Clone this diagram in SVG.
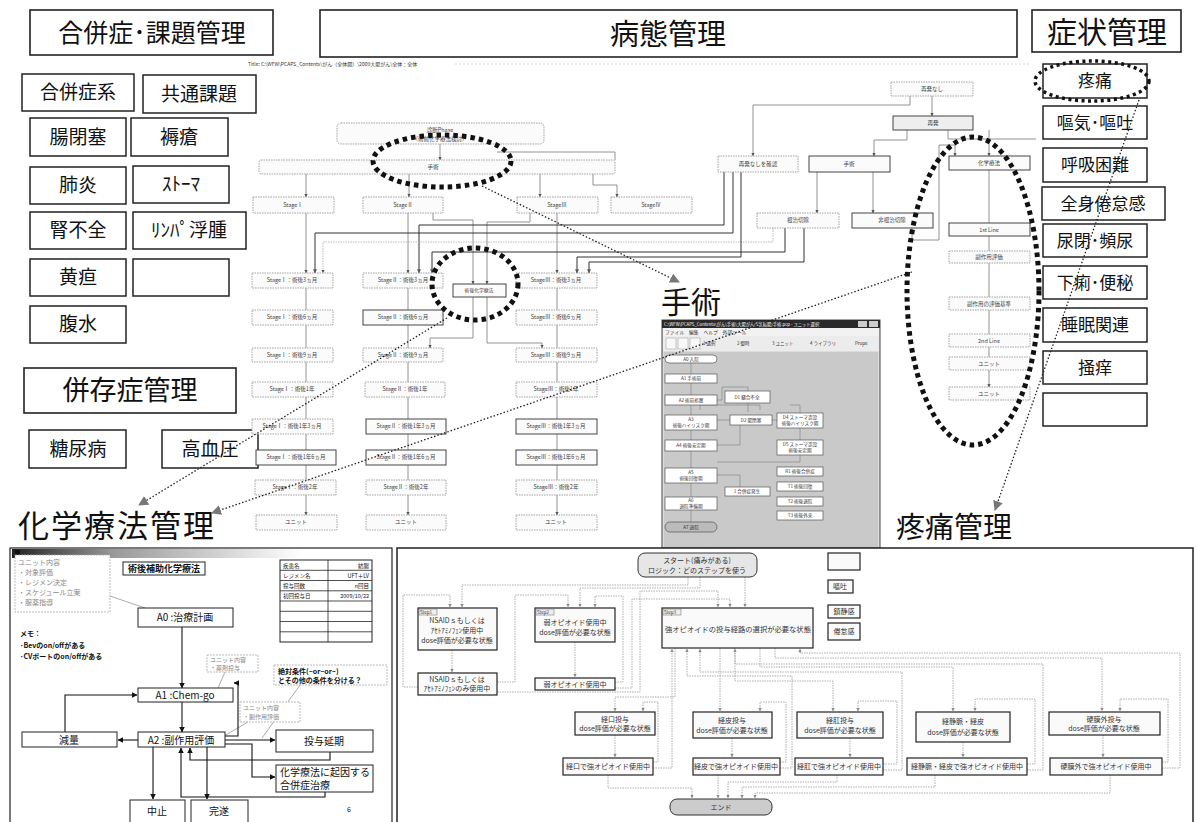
<svg xmlns="http://www.w3.org/2000/svg" width="1197" height="822" viewBox="0 0 1197 822">
<defs>
<style>
text{font-family:"Noto Sans CJK JP","Noto Sans",sans-serif;fill:#111}
.hb{fill:#fff;stroke:#222;stroke-width:1.6}
.cb{fill:#fff;stroke:#222;stroke-width:1.5}
.h1{text-anchor:middle}
.c19{font-size:19px;text-anchor:middle}
.c17{font-size:17px;text-anchor:middle}
.tb{fill:#fbfbfb;stroke:#999;stroke-width:0.9;stroke-dasharray:1.5 1}
.td{fill:#fbfbfb;stroke:#444;stroke-width:1}
.tt{font-size:5.5px;text-anchor:middle;fill:#444}
.cn{fill:none;stroke:#777;stroke-width:0.8}
.cng{fill:none;stroke:#aaa;stroke-width:0.8;stroke-dasharray:1.5 1}
.cnd{fill:none;stroke:#333;stroke-width:1}
.dl{fill:none;stroke:#222;stroke-width:1.3;stroke-dasharray:1.5 2}
.el{fill:none;stroke:#111;stroke-width:5;stroke-dasharray:4.5 4}
.el2{fill:none;stroke:#111;stroke-width:3.5;stroke-dasharray:3 3.5}
.sw{fill:#fff;stroke:#555;stroke-width:0.7}
.st{font-size:4.6px;text-anchor:middle;fill:#333}
.cw{fill:#fff;stroke:#222;stroke-width:1}
.ct{font-size:10px;text-anchor:middle}
.ctl{font-size:10px}
.ca{fill:none;stroke:#111;stroke-width:1.1}
.cg{fill:none;stroke:#888;stroke-width:0.7}
.gb{fill:#fff;stroke:#aaa;stroke-width:0.8;stroke-dasharray:2 1}
.gt{font-size:7px;fill:#888}
.gt6{font-size:6px;fill:#888}
.pb{fill:#fafafa;stroke:#222;stroke-width:1.2}
.pt{font-size:7px;text-anchor:middle;fill:#333}
.pc{fill:none;stroke:#999;stroke-width:0.8;stroke-dasharray:1.5 1}
.tag{fill:#eee;stroke:#666;stroke-width:0.5}
.tgt{font-size:4.5px;fill:#444}
.wt{font-size:4.3px;fill:#fff}
.mt{font-size:4.8px;fill:#333}
.bt{font-size:4.5px;fill:#333}
.tbl{font-size:5.5px}
.tblr{font-size:5.5px;text-anchor:end}
.memo{font-size:7px;font-weight:bold}
</style>
<marker id="ta" viewBox="0 0 6 6" refX="5.5" refY="3" markerWidth="4" markerHeight="4" orient="auto"><path d="M0,0L6,3L0,6z" fill="#555"/></marker>
<marker id="pa" viewBox="0 0 6 6" refX="5.5" refY="3" markerWidth="4" markerHeight="4" orient="auto"><path d="M0,0L6,3L0,6z" fill="#888"/></marker>
<marker id="ba" viewBox="0 0 6 6" refX="5.5" refY="3" markerWidth="5" markerHeight="5" orient="auto"><path d="M0,0L6,3L0,6z" fill="#111"/></marker>
<marker id="da" viewBox="0 0 10 10" refX="9" refY="5" markerWidth="10" markerHeight="10" markerUnits="userSpaceOnUse" orient="auto"><path d="M0,0L10,5L0,10z" fill="#777"/></marker>
<linearGradient id="gbar" x1="0" x2="1" y1="0" y2="0"><stop offset="0" stop-color="#222"/><stop offset="0.35" stop-color="#999"/><stop offset="1" stop-color="#fff"/></linearGradient>
</defs>
<rect width="1197" height="822" fill="#fff"/>

<!-- headers -->
<g id="hdr-gappei"><rect class="hb" x="30" y="10" width="243" height="45"/><text class="h1" x="152" y="42" style="font-size:25px">合併症･課題管理</text></g>
<g id="hdr-byotai"><rect class="hb" x="320" y="10" width="697" height="47"/><text class="h1" x="668" y="45" style="font-size:29px">病態管理</text></g>
<g id="hdr-shojo"><rect class="hb" x="1032" y="10" width="149" height="42"/><text class="h1" x="1107" y="43" style="font-size:30px">症状管理</text></g>
<g id="title-line"><text x="248" y="66" style="font-size:5px;fill:#333">Title: C:\WFW\PCAPS_Contents\がん（全体図）\2009大腸がん\全体：全体</text><line x1="455" y1="64" x2="1030" y2="64" stroke="#bbb" stroke-width="0.6" stroke-dasharray="2 2"/></g>

<!-- left categories -->
<g id="n-gappeisho"><rect class="cb" x="22" y="74" width="112" height="37"/><text class="c19" x="78" y="99">合併症系</text></g>
<g id="n-kyotsu"><rect class="cb" x="143" y="75" width="113" height="38"/><text class="c19" x="199" y="101">共通課題</text></g>
<g id="n-choheisoku"><rect class="cb" x="30" y="118" width="96" height="38"/><text class="c19" x="78" y="144">腸閉塞</text></g>
<g id="n-jokuso"><rect class="cb" x="131" y="118" width="97" height="38"/><text class="c19" x="179" y="144">褥瘡</text></g>
<g id="n-haien"><rect class="cb" x="30" y="167" width="96" height="37"/><text class="c19" x="78" y="192">肺炎</text></g>
<g id="n-stoma"><rect class="cb" x="133" y="166" width="96" height="37"/><text class="c19" x="181" y="191">ｽﾄｰﾏ</text></g>
<g id="n-jinfuzen"><rect class="cb" x="30" y="212" width="96" height="37"/><text class="c19" x="78" y="237">腎不全</text></g>
<g id="n-lympha"><rect class="cb" x="133" y="212" width="113" height="37"/><text class="c19" x="189" y="237">ﾘﾝﾊﾟ浮腫</text></g>
<g id="n-odan"><rect class="cb" x="30" y="259" width="96" height="37"/><text class="c19" x="78" y="284">黄疸</text></g>
<g id="n-empty1"><rect class="cb" x="133" y="259" width="96" height="37"/></g>
<g id="n-fukusui"><rect class="cb" x="30" y="306" width="96" height="37"/><text class="c19" x="78" y="331">腹水</text></g>
<g id="hdr-heizon"><rect class="hb" x="24" y="368" width="212" height="45"/><text class="h1" x="130" y="400" style="font-size:27px">併存症管理</text></g>
<g id="n-tonyo"><rect class="cb" x="29" y="430" width="97" height="38"/><text class="c19" x="78" y="456">糖尿病</text></g>
<g id="n-koketsu"><rect class="cb" x="162" y="430" width="96" height="38"/><text class="c19" x="210" y="456">高血圧</text></g>

<!-- right symptoms -->
<g id="s-totsu"><rect class="cb" x="1043" y="64" width="104" height="34"/><text class="c17" x="1095" y="87">疼痛</text></g>
<g id="s-oki"><rect class="cb" x="1043" y="106" width="104" height="33"/><text class="c17" x="1095" y="129">嘔気･嘔吐</text></g>
<g id="s-kokyu"><rect class="cb" x="1043" y="148" width="104" height="34"/><text class="c17" x="1095" y="171">呼吸困難</text></g>
<g id="s-kentai"><rect class="cb" x="1042" y="187" width="123" height="33"/><text class="c17" x="1103" y="210">全身倦怠感</text></g>
<g id="s-nyohei"><rect class="cb" x="1043" y="224" width="104" height="33"/><text class="c17" x="1095" y="247">尿閉･頻尿</text></g>
<g id="s-geri"><rect class="cb" x="1043" y="266" width="104" height="33"/><text class="c17" x="1095" y="289">下痢･便秘</text></g>
<g id="s-suimin"><rect class="cb" x="1043" y="308" width="104" height="34"/><text class="c17" x="1095" y="331">睡眠関連</text></g>
<g id="s-soyo"><rect class="cb" x="1043" y="351" width="104" height="33"/><text class="c17" x="1095" y="374">掻痒</text></g>
<g id="s-empty"><rect class="cb" x="1043" y="393" width="104" height="33"/></g>

<!-- big headings -->
<g id="lbl-shujutsu"><text x="661" y="313" style="font-size:30px">手術</text></g>
<g id="lbl-chemo"><text x="18" y="537" style="font-size:31px;letter-spacing:2px">化学療法管理</text></g>
<g id="lbl-totsu"><text x="896" y="538" style="font-size:29px">疼痛管理</text></g>

<!-- tree connectors -->
<g id="tree-connectors">
<path class="cn" d="M440,144V160" marker-end="url(#ta)"/>
<path class="cn" d="M306,174V197" marker-end="url(#ta)"/>
<path class="cn" d="M409,174V197" marker-end="url(#ta)"/>
<path class="cn" d="M540,174V197" marker-end="url(#ta)"/>
<path class="cn" d="M593,174V185H617V197" marker-end="url(#ta)"/>
<path class="cn" d="M497,152H615V160"/>
<path class="cn" d="M306,213V273" marker-end="url(#ta)"/>
<path class="cn" d="M408,213V273" marker-end="url(#ta)"/>
<path class="cn" d="M557,213V273" marker-end="url(#ta)"/>
<path class="cn" d="M433,213V220H473V284" marker-end="url(#ta)"/>
<path class="cn" d="M530,213V222H487V284" marker-end="url(#ta)"/>
<path class="cnd" d="M724,172V225H419V273" marker-end="url(#ta)"/>
<path class="cnd" d="M733,172V233H315V273" marker-end="url(#ta)"/>
<path class="cng" d="M773,228V242H323V273" marker-end="url(#ta)"/>
<path class="cnd" d="M785,228V252H432V273" marker-end="url(#ta)"/>
<path class="cnd" d="M741,172V257H577V273" marker-end="url(#ta)"/>
<path class="cnd" d="M804,228V262H589V273" marker-end="url(#ta)"/>
<path class="cn" d="M306,288V310M306,325V348M306,362V382M306,397V419M306,434V450M306,465V480M306,495V515" marker-end="url(#ta)"/>
<path class="cn" d="M408,288V310M408,325V348M408,362V382M408,397V419M408,434V450M408,465V480M408,495V515" marker-end="url(#ta)"/>
<path class="cn" d="M557,288V310M557,325V348M557,362V382M557,397V419M557,434V450M557,465V480M557,495V515" marker-end="url(#ta)"/>
<path class="cn" d="M473,297V338H430V348" marker-end="url(#ta)"/>
<path class="cn" d="M487,297V343H542V348" marker-end="url(#ta)"/>
<path class="cn" d="M910,96V105H753V156" marker-end="url(#ta)"/>
<path class="cn" d="M932,96V116" marker-end="url(#ta)"/>
<path class="cn" d="M907,130V140H874V156" marker-end="url(#ta)"/>
<path class="cn" d="M989,130V156" marker-end="url(#ta)"/>
<path class="cn" d="M948,130V139H1036"/>
<path class="cn" d="M912,228V240H939V145H955V156" marker-end="url(#ta)"/>
<path class="cn" d="M817,172V213" marker-end="url(#ta)"/>
<path class="cn" d="M873,172V213" marker-end="url(#ta)"/>
<path class="cn" d="M989,170V223M989,236V251M989,263V297M989,310V334M989,347V357M989,370V387" marker-end="url(#ta)"/>
</g>

<!-- tree nodes -->
<g id="t-shindan"><rect class="tb" x="337" y="123" width="207" height="21" rx="4"/><text class="tt" x="440" y="132">診断Phase</text><text class="tt" x="440" y="141">（術前化学療法検討）</text></g>
<g id="t-shujutsu"><rect class="tb" x="259" y="160" width="356" height="14" rx="2"/><text class="tt" x="433" y="169">手術</text></g>
<g id="t-s1"><rect class="tb" x="253" y="197" width="81" height="16"/><text class="tt" x="293" y="207">StageⅠ</text></g>
<g id="t-s2"><rect class="tb" x="363" y="197" width="80" height="16"/><text class="tt" x="403" y="207">StageⅡ</text></g>
<g id="t-s3"><rect class="tb" x="517" y="197" width="81" height="16"/><text class="tt" x="557" y="207">StageⅢ</text></g>
<g id="t-s4"><rect class="tb" x="611" y="197" width="81" height="16"/><text class="tt" x="651" y="207">StageⅣ</text></g>

<g id="t-c1">
<rect class="tb" x="252" y="273" width="81" height="15"/><text class="tt" x="292" y="282">StageⅠ：術後3ヵ月</text>
<rect class="tb" x="252" y="310" width="81" height="15"/><text class="tt" x="292" y="319">StageⅠ：術後6ヵ月</text>
<rect class="tb" x="252" y="348" width="81" height="14"/><text class="tt" x="292" y="357">StageⅠ：術後9ヵ月</text>
<rect class="tb" x="252" y="382" width="81" height="15"/><text class="tt" x="292" y="391">StageⅠ：術後1年</text>
<rect class="tb" x="252" y="419" width="81" height="15"/><text class="tt" x="292" y="428">StageⅠ：術後1年3ヵ月</text>
<rect class="td" x="256" y="450" width="80" height="15"/><text class="tt" x="296" y="459">StageⅠ：術後1年6ヵ月</text>
<rect class="tb" x="255" y="480" width="81" height="15"/><text class="tt" x="295" y="489">StageⅠ：術後2年</text>
<rect class="tb" x="256" y="515" width="81" height="15"/><text class="tt" x="296" y="524">ユニット</text>
</g>
<g id="t-c2">
<rect class="tb" x="363" y="273" width="80" height="15"/><text class="tt" x="403" y="282">StageⅡ：術後3ヵ月</text>
<rect class="td" x="363" y="310" width="80" height="15"/><text class="tt" x="403" y="319">StageⅡ：術後6ヵ月</text>
<rect class="tb" x="363" y="348" width="80" height="14"/><text class="tt" x="403" y="357">StageⅡ：術後9ヵ月</text>
<rect class="tb" x="365" y="382" width="80" height="15"/><text class="tt" x="405" y="391">StageⅡ：術後1年</text>
<rect class="td" x="366" y="419" width="80" height="15"/><text class="tt" x="406" y="428">StageⅡ：術後1年3ヵ月</text>
<rect class="td" x="366" y="450" width="80" height="15"/><text class="tt" x="406" y="459">StageⅡ：術後1年6ヵ月</text>
<rect class="tb" x="366" y="480" width="80" height="15"/><text class="tt" x="406" y="489">StageⅡ：術後2年</text>
<rect class="tb" x="366" y="515" width="80" height="15"/><text class="tt" x="406" y="524">ユニット</text>
</g>
<g id="t-chemo"><rect class="td" x="453" y="284" width="53" height="13"/><text class="tt" x="479" y="292" style="font-size:4.8px">術後化学療法</text></g>
<g id="t-c3">
<rect class="tb" x="516" y="273" width="81" height="15"/><text class="tt" x="556" y="282">StageⅢ：術後3ヵ月</text>
<rect class="tb" x="516" y="310" width="81" height="15"/><text class="tt" x="556" y="319">StageⅢ：術後6ヵ月</text>
<rect class="tb" x="516" y="348" width="81" height="14"/><text class="tt" x="556" y="357">StageⅢ：術後9ヵ月</text>
<rect class="tb" x="516" y="382" width="81" height="15"/><text class="tt" x="556" y="391">StageⅢ：術後1年</text>
<rect class="td" x="516" y="419" width="81" height="15"/><text class="tt" x="556" y="428">StageⅢ：術後1年3ヵ月</text>
<rect class="td" x="516" y="450" width="81" height="15"/><text class="tt" x="556" y="459">StageⅢ：術後1年6ヵ月</text>
<rect class="tb" x="516" y="480" width="81" height="15"/><text class="tt" x="556" y="489">StageⅢ：術後2年</text>
<rect class="tb" x="516" y="515" width="81" height="15"/><text class="tt" x="556" y="524">ユニット</text>
</g>
<g id="t-saihatsunashi"><rect class="tb" x="891" y="82" width="82" height="14"/><text class="tt" x="932" y="91">再発なし</text></g>
<g id="t-saihatsu"><rect class="td" x="893" y="116" width="80" height="14" style="fill:#eee"/><text class="tt" x="933" y="125">再発</text></g>
<g id="t-kakunin"><rect class="tb" x="718" y="156" width="80" height="16"/><text class="tt" x="758" y="166">再発なしを確認</text></g>
<g id="t-shujutsu2"><rect class="td" x="809" y="156" width="81" height="16"/><text class="tt" x="849" y="166">手術</text></g>
<g id="t-kagaku"><rect class="td" x="949" y="156" width="81" height="14"/><text class="tt" x="989" y="165">化学療法</text></g>
<g id="t-konchi"><rect class="tb" x="757" y="213" width="82" height="15"/><text class="tt" x="798" y="222">根治切除</text></g>
<g id="t-hikonchi"><rect class="td" x="852" y="213" width="81" height="15"/><text class="tt" x="892" y="222">非根治切除</text></g>
<g id="t-1st"><rect class="td" x="949" y="223" width="81" height="13"/><text class="tt" x="989" y="232">1st Line</text></g>
<g id="t-fuku1"><rect class="tb" x="949" y="251" width="81" height="12"/><text class="tt" x="989" y="259">副作用評価</text></g>
<g id="t-fuku2"><rect class="tb" x="949" y="297" width="81" height="13"/><text class="tt" x="989" y="306">副作用の評価基準</text></g>
<g id="t-2nd"><rect class="tb" x="949" y="334" width="81" height="13"/><text class="tt" x="989" y="343">2nd Line</text></g>
<g id="t-unit1"><rect class="tb" x="949" y="357" width="81" height="13"/><text class="tt" x="989" y="366">ユニット</text></g>
<g id="t-unit2"><rect class="tb" x="949" y="387" width="81" height="13"/><text class="tt" x="989" y="396">ユニット</text></g>

<!-- surgery screenshot -->
<g id="shujutsu-window">
<rect x="662" y="320" width="218" height="228" fill="#ddd" stroke="#444" stroke-width="1"/>
<rect x="662" y="320" width="218" height="8" fill="#2a2a2a"/>
<text class="wt" x="664" y="326">C:\WFW\PCAPS_Contents\がん\手術\大腸がん(S状結腸)手術.pcp - ユニット選択</text>
<rect x="858" y="321" width="9" height="6" fill="#ccc"/><rect x="869" y="321" width="9" height="6" fill="#ccc"/>
<rect x="663" y="328" width="216" height="8" fill="#f2f2f2"/>
<text class="mt" x="665" y="334">ファイル　編集　ヘルプ　外部ツール</text>
<rect x="663" y="336" width="216" height="15" fill="#ececec"/>
<rect x="666" y="338" width="10" height="11" fill="#f8f8f8" stroke="#999" stroke-width="0.5"/>
<rect x="678" y="338" width="10" height="11" fill="#f8f8f8" stroke="#999" stroke-width="0.5"/>
<rect x="690" y="338" width="10" height="11" fill="#f8f8f8" stroke="#999" stroke-width="0.5"/>
<text class="bt" x="703" y="345">1 選択</text><text class="bt" x="737" y="345">2 御時</text><text class="bt" x="772" y="345">3 ユニット</text><text class="bt" x="810" y="345">4 ライブラリ</text><text class="bt" x="855" y="345">Prope</text>
<rect x="664" y="352" width="214" height="195" fill="#c9c9c9"/>
<path class="cg" d="M691,363V374M691,383V395M691,405V415M691,430V440M691,451V468M691,483V497M691,510V522"/>
<path class="cg" d="M717,400H722V387H748V391M717,420H730M717,445H740V425M772,420H777M800,428V440M717,475H740V487M748,403V412M700,410V405H760V410M790,405H800V413M717,462H800V455"/>
<rect class="sw" x="665" y="355" width="52" height="8" rx="4"/><text class="st" x="691" y="361">A0 入院</text>
<rect class="sw" x="665" y="374" width="52" height="9"/><text class="st" x="691" y="380">A1 手術前</text>
<rect class="sw" x="665" y="395" width="52" height="10"/><text class="st" x="691" y="402">A2 術前処置</text>
<rect class="sw" x="665" y="415" width="52" height="15"/><text class="st" x="691" y="421">A3</text><text class="st" x="691" y="427">術後ハイリスク期</text>
<rect class="sw" x="665" y="440" width="52" height="11"/><text class="st" x="691" y="447">A4 術後安定期</text>
<rect class="sw" x="665" y="468" width="52" height="15"/><text class="st" x="691" y="474">A5</text><text class="st" x="691" y="480">術後回復期</text>
<rect class="sw" x="665" y="497" width="52" height="13"/><text class="st" x="691" y="502">A6</text><text class="st" x="691" y="508">退院準備期</text>
<rect x="665" y="522" width="52" height="10" rx="5" fill="#bbb" stroke="#555" stroke-width="0.7"/><text class="st" x="691" y="529">A7 退院</text>
<rect class="sw" x="725" y="391" width="45" height="12"/><text class="st" x="747" y="399">D1 縫合不全</text>
<rect class="sw" x="730" y="415" width="42" height="10"/><text class="st" x="751" y="422">D2 腸閉塞</text>
<rect class="sw" x="777" y="413" width="46" height="15"/><text class="st" x="800" y="419">D4 ストーマ造設</text><text class="st" x="800" y="425">術後ハイリスク期</text>
<rect class="sw" x="777" y="440" width="46" height="15"/><text class="st" x="800" y="446">D5 ストーマ造設</text><text class="st" x="800" y="452">術後安定期</text>
<rect class="sw" x="725" y="487" width="45" height="9"/><text class="st" x="747" y="493">1 合併症発生</text>
<rect class="sw" x="777" y="467" width="46" height="9"/><text class="st" x="800" y="473">R1 術後合併症</text>
<rect class="sw" x="777" y="482" width="46" height="9"/><text class="st" x="800" y="488">T1 術後回復</text>
<rect class="sw" x="777" y="497" width="46" height="9"/><text class="st" x="800" y="503">T2 術後退院</text>
<rect class="sw" x="777" y="511" width="46" height="9"/><text class="st" x="800" y="517">T3 術後外来</text>
</g>

<!-- dotted ellipses -->
<g id="ellipses">
<ellipse class="el" cx="442" cy="161" rx="69" ry="26"/>
<ellipse class="el" cx="475" cy="284" rx="43" ry="36"/>
<ellipse class="el" cx="973" cy="291" rx="66" ry="154"/>
<ellipse class="el2" cx="1092" cy="81" rx="57" ry="20"/>
</g>

<!-- dotted link arrows -->
<g id="link-connectors">
<path class="dl" d="M482,186L679,282" marker-end="url(#da)"/>
<path class="dl" d="M447,318L139,505" marker-end="url(#da)"/>
<path class="dl" d="M912,272L212,513" marker-end="url(#da)"/>
<path class="dl" d="M1139,100L995,510" marker-end="url(#da)"/>
</g>

<!-- chemo panel -->
<g id="chemo-panel">
<rect x="10" y="548" width="382" height="280" fill="#fff" stroke="#222" stroke-width="1.2"/>
<rect x="12" y="549" width="290" height="9" fill="url(#gbar)"/>
<rect x="15" y="550" width="5" height="5" fill="#111"/>
</g>
<g id="chemo-connectors">
<path class="cg" d="M110,596L145,608"/>
<path class="cg" d="M225,672L218,688"/>
<path class="cg" d="M248,722L224,736"/>
<path class="cg" d="M300,685L262,738"/>
<path class="ca" d="M182,627V688" marker-end="url(#ba)"/>
<path class="ca" d="M182,702V732" marker-end="url(#ba)"/>
<path class="ca" d="M138,740H118" marker-end="url(#ba)"/>
<path class="ca" d="M65,732V695H137" marker-end="url(#ba)"/>
<path class="ca" d="M225,736H238V683H234" marker-end="url(#ba)"/>
<path class="ca" d="M225,740H275" marker-end="url(#ba)"/>
<path class="ca" d="M330,752V760H190V748" marker-end="url(#ba)"/>
<path class="ca" d="M225,744H252V777H275" marker-end="url(#ba)"/>
<path class="ca" d="M325,792V797H181V748" marker-end="url(#ba)"/>
<path class="ca" d="M153,747V799" marker-end="url(#ba)"/>
<path class="ca" d="M207,747V799" marker-end="url(#ba)"/>
</g>
<g id="c-unitbox"><rect class="gb" x="15" y="555" width="95" height="57"/><text class="gt" x="18" y="565">ユニット内容</text><text class="gt" x="18" y="575">・対象評価</text><text class="gt" x="18" y="585">・レジメン決定</text><text class="gt" x="18" y="595">・スケジュール立案</text><text class="gt" x="18" y="605">・服薬指導</text></g>
<g id="c-title"><rect class="cw" x="123" y="562" width="82" height="13"/><text x="164" y="572" style="font-size:9px;font-weight:bold;text-anchor:middle">術後補助化学療法</text></g>
<g id="c-table">
<rect x="280" y="560" width="92" height="82" fill="#fff" stroke="#222" stroke-width="1"/>
<path d="M280,570.3H372M280,580.5H372M280,590.8H372M280,601H372M280,611.3H372M280,621.5H372M280,631.8H372M328,560V642" stroke="#222" stroke-width="0.8"/>
<text class="tbl" x="283" y="567.5">疾患名</text><text class="tblr" x="369" y="567.5">結腸</text>
<text class="tbl" x="283" y="577.8">レジメン名</text><text class="tblr" x="369" y="577.8">UFT＋LV</text>
<text class="tbl" x="283" y="588">投与回数</text><text class="tblr" x="369" y="588">n回目</text>
<text class="tbl" x="283" y="598.3">初回投与日</text><text class="tblr" x="369" y="598.3">2009/10/22</text>
</g>
<g id="c-a0"><rect class="cw" x="138" y="608" width="95" height="19"/><text class="ct" x="185" y="621">A0 :治療計画</text></g>
<g id="c-memo"><text class="memo" x="20" y="636">メモ：</text><text class="memo" x="20" y="648">･Bevのon/offがある</text><text class="memo" x="20" y="659">･CVポートのon/offがある</text></g>
<g id="c-unit2"><rect class="gb" x="207" y="655" width="51" height="17"/><text class="gt6" x="210" y="662">ユニット内容</text><text class="gt6" x="210" y="670">・薬剤投与</text></g>
<g id="c-zettai"><rect class="gb" x="274" y="665" width="113" height="20"/><text class="memo" x="278" y="674">絶対条件(~or~or~)</text><text class="memo" x="278" y="683">とその他の条件を分ける？</text></g>
<g id="c-a1"><rect class="cw" x="138" y="688" width="95" height="14"/><text class="ct" x="185" y="699">A1 :Chem-go</text></g>
<g id="c-unit3"><rect class="gb" x="240" y="702" width="60" height="20"/><text class="gt6" x="243" y="710">ユニット内容</text><text class="gt6" x="243" y="719">・副作用評価</text></g>
<g id="c-genryo"><rect class="cw" x="22" y="732" width="95" height="15"/><text class="ct" x="69" y="744">減量</text></g>
<g id="c-a2"><rect class="cw" x="138" y="732" width="87" height="15"/><text class="ct" x="181" y="744">A2 :副作用評価</text></g>
<g id="c-enki"><rect class="cw" x="276" y="730" width="97" height="22"/><text class="ct" x="324" y="745">投与延期</text></g>
<g id="c-gappei"><rect class="cw" x="276" y="765" width="97" height="27"/><text class="ctl" x="280" y="776">化学療法に起因する</text><text class="ctl" x="280" y="789">合併症治療</text></g>
<g id="c-chushi"><rect class="cw" x="130" y="800" width="55" height="25"/><text class="ct" x="157" y="815">中止</text></g>
<g id="c-kansui"><rect class="cw" x="191" y="800" width="57" height="25"/><text class="ct" x="219" y="815">完遂</text></g>
<g id="c-page"><text x="347" y="812" style="font-size:7px">6</text></g>

<!-- pain panel -->
<g id="pain-panel"><rect x="397" y="548" width="796" height="280" fill="#fff" stroke="#222" stroke-width="1.5"/></g>
<g id="pain-connectors">
<path class="pc" d="M688,577V585H462V607" marker-end="url(#pa)"/>
<path class="pc" d="M700,577V588H580V607" marker-end="url(#pa)"/>
<path class="pc" d="M745,577V607" marker-end="url(#pa)"/>
<path class="pc" d="M418,687H403V595H450V607" marker-end="url(#pa)"/>
<path class="pc" d="M452,650V672" marker-end="url(#pa)"/>
<path class="pc" d="M497,682H515V595H568V607" marker-end="url(#pa)"/>
<path class="pc" d="M575,642V677" marker-end="url(#pa)"/>
<path class="pc" d="M615,682H623V596H595V607" marker-end="url(#pa)"/>
<path class="pc" d="M497,692H640V591H718V607" marker-end="url(#pa)"/>
<path class="pc" d="M615,688H632V599H730V607" marker-end="url(#pa)"/>
<path class="pc" d="M675,648V697H615V711" marker-end="url(#pa)"/>
<path class="pc" d="M720,648V711" marker-end="url(#pa)"/>
<path class="pc" d="M735,648V681H833V711" marker-end="url(#pa)"/>
<path class="pc" d="M760,648V667H953V711" marker-end="url(#pa)"/>
<path class="pc" d="M775,648V658H1102V711" marker-end="url(#pa)"/>
<path class="pc" d="M615,735V757" marker-end="url(#pa)"/>
<path class="pc" d="M732,738V757" marker-end="url(#pa)"/>
<path class="pc" d="M850,738V757" marker-end="url(#pa)"/>
<path class="pc" d="M963,742V757" marker-end="url(#pa)"/>
<path class="pc" d="M1103,735V757" marker-end="url(#pa)"/>
<path class="pc" d="M653,762H658V702H643V711" marker-end="url(#pa)"/>
<path class="pc" d="M653,768H672V649" marker-end="url(#pa)"/>
<path class="pc" d="M780,762H786V702H760V711" marker-end="url(#pa)"/>
<path class="pc" d="M780,768H792V676H687V649" marker-end="url(#pa)"/>
<path class="pc" d="M883,764H897V701H858V711" marker-end="url(#pa)"/>
<path class="pc" d="M883,770H902V672H700V649" marker-end="url(#pa)"/>
<path class="pc" d="M1027,764H1035V699H975V711" marker-end="url(#pa)"/>
<path class="pc" d="M1027,770H1043V664H735V649" marker-end="url(#pa)"/>
<path class="pc" d="M1162,762H1168V699H1120V711" marker-end="url(#pa)"/>
<path class="pc" d="M1162,768H1180V653H800V649" marker-end="url(#pa)"/>
<path class="pc" d="M608,775V788H692V798" marker-end="url(#pa)"/>
<path class="pc" d="M718,775V798" marker-end="url(#pa)"/>
<path class="pc" d="M837,775V782H728V798" marker-end="url(#pa)"/>
<path class="pc" d="M935,775V787H742V798" marker-end="url(#pa)"/>
<path class="pc" d="M1110,775V793H755V798" marker-end="url(#pa)"/>
</g>
<g id="p-start"><rect x="638" y="553" width="119" height="24" rx="7" fill="#e6e6e6" stroke="#333" stroke-width="1"/><text class="pt" x="697" y="563">スタート(痛みがある)</text><text class="pt" x="697" y="573">ロジック：どのステップを使う</text></g>
<g id="p-step1"><rect class="pb" x="418" y="608" width="79" height="42"/><rect class="tag" x="419" y="609" width="18" height="6"/><text class="tgt" x="420" y="614">Step1</text><text class="pt" x="457" y="623">NSAIDｓもしくは</text><text class="pt" x="457" y="633">ｱｾﾄｱﾐﾉﾌｪﾝ使用中</text><text class="pt" x="457" y="643">dose評価が必要な状態</text></g>
<g id="p-nsaid"><rect class="pb" x="418" y="673" width="79" height="22"/><text class="pt" x="457" y="682">NSAIDｓもしくは</text><text class="pt" x="457" y="691">ｱｾﾄｱﾐﾉﾌｪﾝのみ使用中</text></g>
<g id="p-step2"><rect class="pb" x="535" y="608" width="80" height="34"/><rect class="tag" x="536" y="609" width="18" height="6"/><text class="tgt" x="537" y="614">Step2</text><text class="pt" x="575" y="625">弱オピオイド使用中</text><text class="pt" x="575" y="635">dose評価が必要な状態</text></g>
<g id="p-jaku"><rect class="pb" x="535" y="678" width="80" height="12"/><text class="pt" x="575" y="687">弱オピオイド使用中</text></g>
<g id="p-step3"><rect class="pb" x="662" y="608" width="151" height="40"/><rect class="tag" x="663" y="609" width="18" height="6"/><text class="tgt" x="664" y="614">Step3</text><text class="pt" x="738" y="632" style="font-size:7.3px">強オピオイドの投与経路の選択が必要な状態</text></g>
<g id="p-leg0"><rect class="pb" x="828" y="553" width="32" height="17"/></g>
<g id="p-leg1"><rect class="pb" x="828" y="580" width="25" height="13"/><text class="pt" x="840" y="589">嘔吐</text></g>
<g id="p-leg2"><rect class="pb" x="828" y="605" width="32" height="13"/><text class="pt" x="844" y="614">鎮静感</text></g>
<g id="p-leg3"><rect class="pb" x="828" y="623" width="32" height="17"/><text class="pt" x="844" y="634">倦怠感</text></g>
<g id="p-keiko"><rect class="pb" x="575" y="712" width="80" height="23"/><text class="pt" x="615" y="722">経口投与</text><text class="pt" x="615" y="731">dose評価が必要な状態</text></g>
<g id="p-keihi"><rect class="pb" x="693" y="712" width="79" height="26"/><text class="pt" x="732" y="723">経皮投与</text><text class="pt" x="732" y="733">dose評価が必要な状態</text></g>
<g id="p-keiko2"><rect class="pb" x="797" y="712" width="86" height="26"/><text class="pt" x="840" y="723">経肛投与</text><text class="pt" x="840" y="733">dose評価が必要な状態</text></g>
<g id="p-jomyaku"><rect class="pb" x="916" y="712" width="94" height="30"/><text class="pt" x="963" y="724">経静脈・経皮</text><text class="pt" x="963" y="735">dose評価が必要な状態</text></g>
<g id="p-komaku"><rect class="pb" x="1049" y="712" width="111" height="23"/><text class="pt" x="1104" y="722">硬膜外投与</text><text class="pt" x="1104" y="731">dose評価が必要な状態</text></g>
<g id="p-u1"><rect class="pb" x="563" y="758" width="90" height="17"/><text class="pt" x="608" y="769">経口で強オピオイド使用中</text></g>
<g id="p-u2"><rect class="pb" x="693" y="758" width="87" height="17"/><text class="pt" x="736" y="769">経皮で強オピオイド使用中</text></g>
<g id="p-u3"><rect class="pb" x="795" y="758" width="88" height="17"/><text class="pt" x="839" y="769">経肛で強オピオイド使用中</text></g>
<g id="p-u4"><rect class="pb" x="907" y="758" width="120" height="17"/><text class="pt" x="967" y="769">経静脈・経皮で強オピオイド使用中</text></g>
<g id="p-u5"><rect class="pb" x="1050" y="758" width="112" height="17"/><text class="pt" x="1106" y="769">硬膜外で強オピオイド使用中</text></g>
<g id="p-end"><rect x="670" y="799" width="102" height="16" rx="7" fill="#ccc" stroke="#333" stroke-width="1"/><text class="pt" x="721" y="810">エンド</text></g>
</svg>
